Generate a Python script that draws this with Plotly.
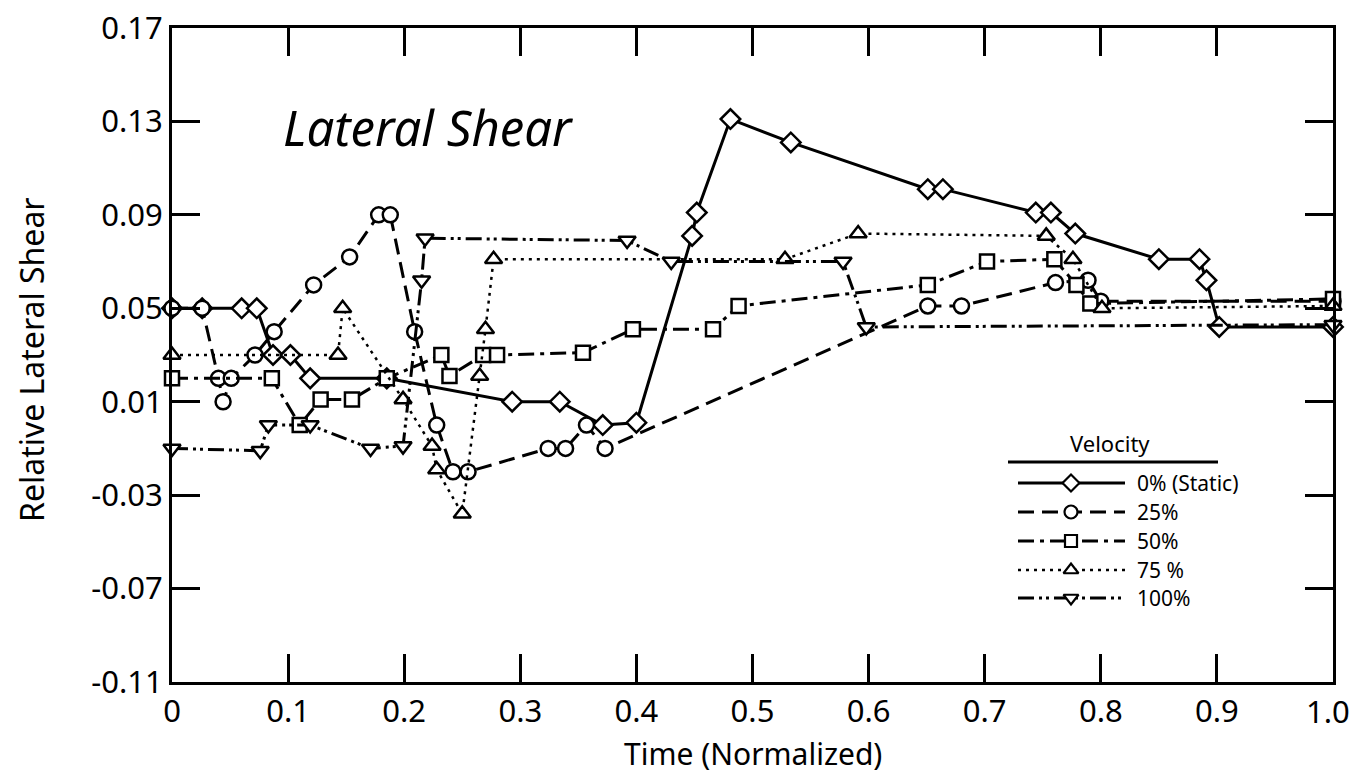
import plotly.graph_objects as go

# ---------------- data ----------------
t_static = [0.0, 0.026, 0.060, 0.073, 0.087, 0.102, 0.119, 0.185, 0.293, 0.334, 0.371, 0.400,
            0.448, 0.452, 0.481, 0.533, 0.651, 0.664, 0.744, 0.757, 0.778, 0.850, 0.885, 0.891,
            0.902, 1.0]
v_static = [0.050, 0.050, 0.050, 0.050, 0.030, 0.030, 0.020, 0.020, 0.010, 0.010, 0.000, 0.001,
            0.081, 0.091, 0.131, 0.121, 0.101, 0.101, 0.091, 0.091, 0.082, 0.071, 0.071, 0.062,
            0.042, 0.042]

t_25 = [0.0, 0.026, 0.040, 0.044, 0.051, 0.0715, 0.088, 0.122, 0.153, 0.178, 0.188, 0.209,
        0.228, 0.242, 0.255, 0.324, 0.339, 0.357, 0.373, 0.651, 0.680, 0.761, 0.789, 0.800, 1.0]
v_25 = [0.050, 0.050, 0.020, 0.010, 0.020, 0.030, 0.040, 0.060, 0.072, 0.090, 0.090, 0.040,
        0.000, -0.020, -0.020, -0.010, -0.010, 0.000, -0.010, 0.051, 0.051, 0.061, 0.062, 0.053,
        0.053]

t_50 = [0.0, 0.086, 0.110, 0.128, 0.155, 0.185, 0.232, 0.239, 0.268, 0.280, 0.354, 0.397,
        0.466, 0.488, 0.651, 0.702, 0.760, 0.779, 0.791, 1.0]
v_50 = [0.020, 0.020, 0.000, 0.011, 0.011, 0.020, 0.030, 0.021, 0.030, 0.030, 0.031, 0.041,
        0.041, 0.051, 0.060, 0.070, 0.071, 0.060, 0.052, 0.054]

t_75 = [0.0, 0.143, 0.147, 0.199, 0.224, 0.228, 0.250, 0.265, 0.270, 0.277, 0.528, 0.591,
        0.753, 0.776, 0.801, 1.0]
v_75 = [0.030, 0.030, 0.050, 0.011, -0.009, -0.019, -0.038, 0.021, 0.041, 0.071, 0.071, 0.082,
        0.081, 0.071, 0.050, 0.051]

t_100 = [0.0, 0.076, 0.083, 0.119, 0.171, 0.199, 0.215, 0.218, 0.392, 0.430, 0.578, 0.598, 1.0]
v_100 = [-0.010, -0.011, 0.000, 0.000, -0.010, -0.009, 0.062, 0.080, 0.079, 0.070, 0.070,
         0.042, 0.043]

series_names = ["0% (Static)", "25%", "50%", "75 %", "100%"]
x_tickvals = [0.0, 0.1, 0.2, 0.3, 0.4, 0.5, 0.6, 0.7, 0.8, 0.9, 1.0]
x_ticktext = ["0", "0.1", "0.2", "0.3", "0.4", "0.5", "0.6", "0.7", "0.8", "0.9", "1.0"]
y_tickvals = [-0.11, -0.07, -0.03, 0.01, 0.05, 0.09, 0.13, 0.17]
y_ticktext = ["-0.11", "-0.07", "-0.03", "0.01", "0.05", "0.09", "0.13", "0.17"]

# ---------------- styles ----------------
FONT = "Noto Sans"
styles = [
    dict(symbol="diamond", dash="solid", width=3, size=15),
    dict(symbol="circle", dash="16px,8px", width=3, size=15),
    dict(symbol="square", dash="16px,6px,4px,6px", width=3, size=14),
    dict(symbol="triangle-up", dash="3px,5px", width=2.5, size=15),
    dict(symbol="triangle-down", dash="16px,5px,3px,4px,3px,5px", width=3, size=15),
]
data = [(t_static, v_static), (t_25, v_25), (t_50, v_50), (t_75, v_75), (t_100, v_100)]

fig = go.Figure()
for (tx, vy), st, name in zip(data, styles, series_names):
    fig.add_trace(go.Scatter(
        x=tx, y=vy, mode="lines+markers", name=name, showlegend=False, cliponaxis=False,
        line=dict(color="black", width=st["width"], dash=st["dash"]),
        marker=dict(symbol=st["symbol"], size=st["size"], color="white",
                    line=dict(color="black", width=2.5)),
    ))

# ---------------- custom legend (pixel overlay axes) ----------------
W, H = 1353, 773
L, R, T, B = 172, 1333, 28, 682


def px_x(x):
    return (x - L) / (R - L)


def px_y(y):
    return (B - y) / (B - T)


row_y = [483, 512, 541, 570, 598]
for st, name, ry in zip(styles, series_names, row_y):
    fig.add_trace(go.Scatter(
        x=[1018, 1125], y=[ry, ry], xaxis="x2", yaxis="y2", mode="lines", showlegend=False,
        hoverinfo="skip", line=dict(color="black", width=st["width"], dash=st["dash"]),
    ))
    fig.add_trace(go.Scatter(
        x=[1071], y=[ry], xaxis="x2", yaxis="y2", mode="markers", showlegend=False,
        hoverinfo="skip",
        marker=dict(symbol=st["symbol"], size=st["size"] - 2, color="white",
                    line=dict(color="black", width=2.2)),
    ))
    fig.add_annotation(x=1136, y=ry, xref="x2", yref="y2", text=name, showarrow=False,
                       xanchor="left", yanchor="middle", borderpad=0,
                       font=dict(family=FONT, size=21, color="black"))

fig.add_annotation(x=1110, y=443, xref="x2", yref="y2", text="Velocity", showarrow=False,
                   xanchor="center", yanchor="middle", borderpad=0,
                   font=dict(family=FONT, size=22, color="black"))
fig.add_shape(type="line", xref="x2", yref="y2", x0=1008, x1=1218, y0=462, y1=462,
              line=dict(color="black", width=3))

fig.add_annotation(x=281, y=127, xref="x2", yref="y2", text="<i>Lateral Shear</i>",
                   showarrow=False, xanchor="left", yanchor="middle",
                   font=dict(family=FONT, size=49, color="black"))
fig.add_annotation(x=px_x(31), y=px_y(360), xref="paper", yref="paper",
                   text="Relative Lateral Shear",
                   showarrow=False, textangle=-90, xanchor="center", yanchor="middle",
                   font=dict(family=FONT, size=32, color="black"))
fig.add_annotation(x=0.5, y=px_y(753), xref="paper", yref="paper", text="Time (Normalized)",
                   showarrow=False, xanchor="center", yanchor="middle", borderpad=0,
                   font=dict(family=FONT, size=30, color="black"))
# last x tick label, anchored so that it stays inside the page
fig.add_annotation(x=px_x(1351), y=px_y(689), xref="paper", yref="paper",
                   text=x_ticktext[-1], showarrow=False, xanchor="right", yanchor="top",
                   borderpad=0, font=dict(family=FONT, size=31, color="black"))

axis_common = dict(showline=True, linecolor="black", linewidth=3, mirror="allticks",
                   ticks="inside", ticklen=28, tickwidth=2.5, tickcolor="black",
                   showgrid=False, zeroline=False, automargin=False,
                   tickfont=dict(family=FONT, size=31, color="black"))
fig.update_layout(
    width=W, height=H, margin=dict(l=L, r=W - R, t=T, b=H - B),
    paper_bgcolor="white", plot_bgcolor="white",
    xaxis=dict(range=[0, 1], tickvals=x_tickvals,
               ticktext=x_ticktext[:-1] + [""], ticklabelstandoff=0, **axis_common),
    yaxis=dict(range=[-0.11, 0.17], tickvals=y_tickvals, ticktext=y_ticktext,
               ticklabelstandoff=0, **axis_common),
    xaxis2=dict(range=[L, R], overlaying="x", visible=False, fixedrange=True),
    yaxis2=dict(range=[B, T], overlaying="y", visible=False, fixedrange=True),
)
fig.write_html("out.html")
